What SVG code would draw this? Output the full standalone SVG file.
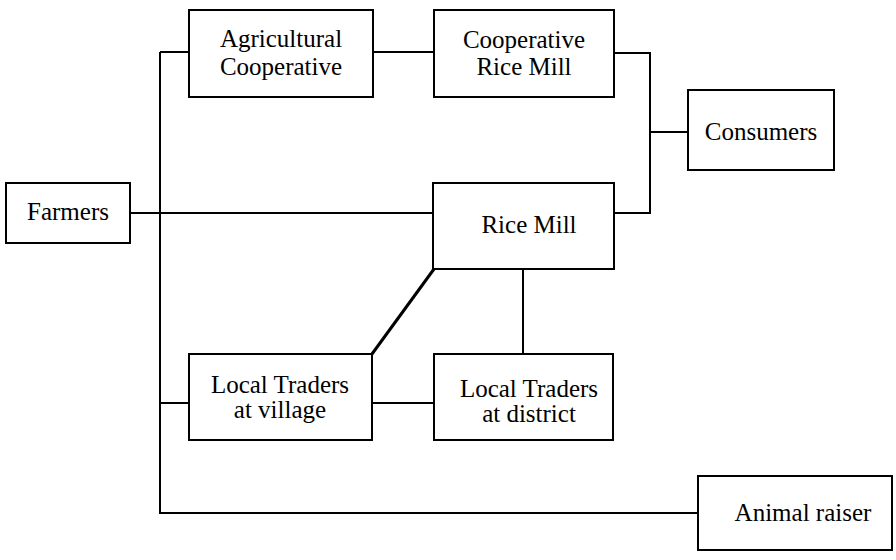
<svg xmlns="http://www.w3.org/2000/svg" width="896" height="560" viewBox="0 0 896 560">
<style>
.box{fill:#fff;stroke:#000;stroke-width:2}
.t{font-family:"Liberation Serif","Times New Roman",serif;font-size:25px;fill:#000;text-anchor:middle}
.c{fill:none;stroke:#000;stroke-width:2}
</style>
<rect width="896" height="560" fill="#fff"/>
<g id="connectors">
<path class="c" d="M160,52 V513 H698"/>
<path class="c" d="M160,52 H189"/>
<path class="c" d="M373,52 H434"/>
<path class="c" d="M614,53 H650 V213 H614"/>
<path class="c" d="M650,132 H688"/>
<path class="c" d="M130,213 H433"/>
<path class="c" d="M434,269 L372,354" style="stroke-width:3"/>
<path class="c" d="M523,269 V354"/>
<path class="c" d="M160,403 H189"/>
<path class="c" d="M372,403 H434"/>
</g>
<g id="farmers">
<rect class="box" x="6" y="183" width="124" height="60"/>
<text class="t" x="68" y="220">Farmers</text>
</g>
<g id="agricultural-cooperative">
<rect class="box" x="189" y="10" width="184" height="87"/>
<text class="t" x="281" y="47">Agricultural</text>
<text class="t" x="281" y="75">Cooperative</text>
</g>
<g id="cooperative-rice-mill">
<rect class="box" x="434" y="10" width="180" height="87"/>
<text class="t" x="524" y="48">Cooperative</text>
<text class="t" x="524" y="75">Rice Mill</text>
</g>
<g id="consumers">
<rect class="box" x="688" y="90" width="146" height="80"/>
<text class="t" x="761" y="140">Consumers</text>
</g>
<g id="rice-mill">
<rect class="box" x="433" y="183" width="181" height="86"/>
<text class="t" x="529" y="233">Rice Mill</text>
</g>
<g id="local-traders-village">
<rect class="box" x="189" y="354" width="183" height="86"/>
<text class="t" x="280" y="393">Local Traders</text>
<text class="t" x="280" y="418">at village</text>
</g>
<g id="local-traders-district">
<rect class="box" x="434" y="354" width="179" height="86"/>
<text class="t" x="529" y="397">Local Traders</text>
<text class="t" x="529" y="422">at district</text>
</g>
<g id="animal-raiser">
<rect class="box" x="698" y="476" width="194" height="74"/>
<text class="t" x="803" y="521">Animal raiser</text>
</g>
</svg>
